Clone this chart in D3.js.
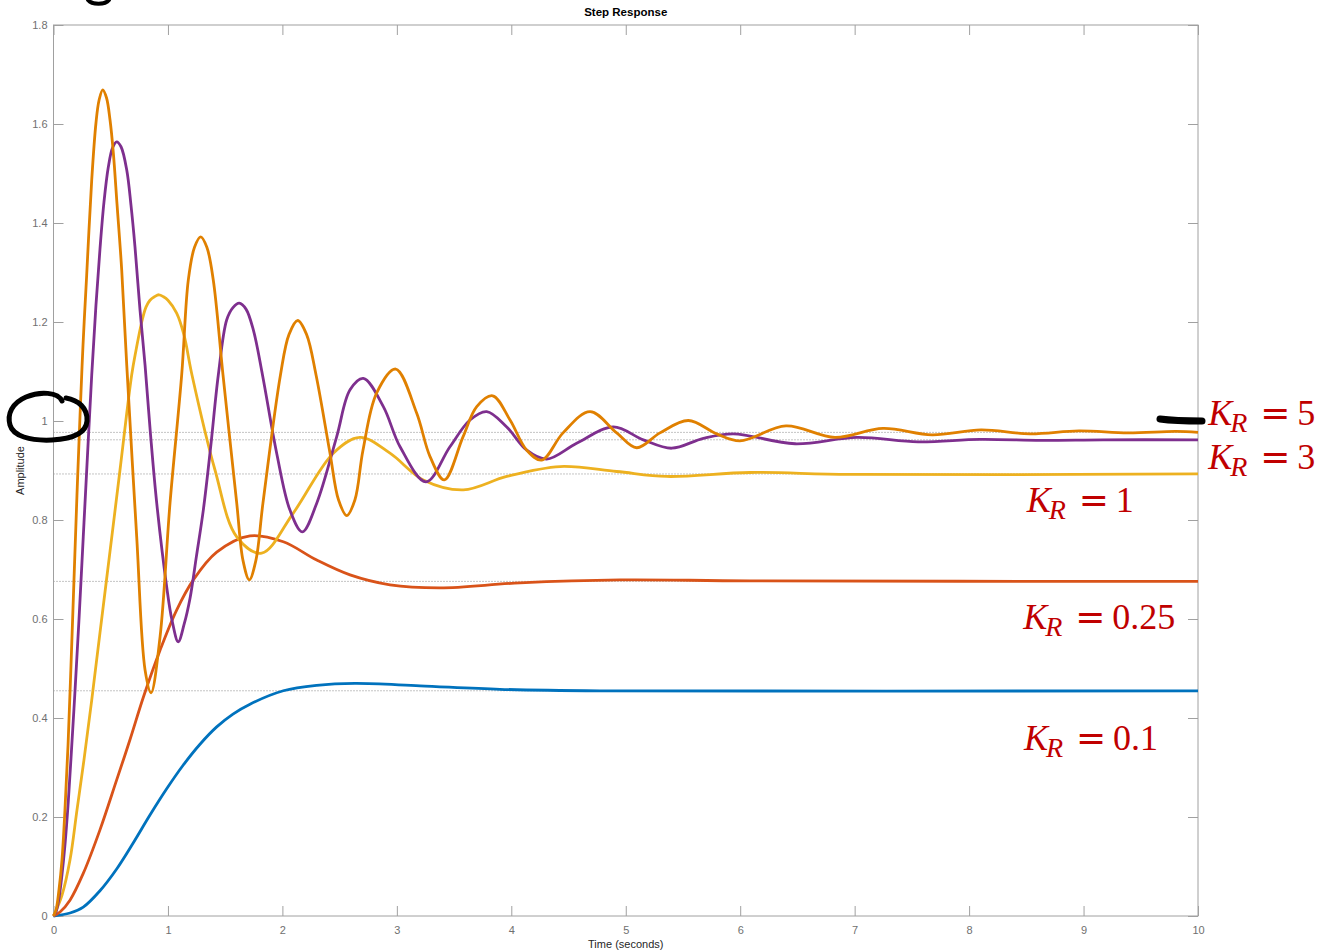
<!DOCTYPE html>
<html>
<head>
<meta charset="utf-8"/>
<title>Step Response</title>
<script src="https://d3js.org/d3.v7.min.js"></script>
<style>
  body { margin:0; background:#fff; }
  .tick text { font-family:"Liberation Sans", Arial, sans-serif; font-size:11px; fill:#707070; }
  .lbl { font-family:"Liberation Serif", "DejaVu Serif", serif; font-size:36px; fill:#c00000; }
</style>
</head>
<body>
<div id="chart"></div>
<script>

// time grid (seconds, amplitude)
var kr01 = [[0,0],[0.144,0.006],[0.26,0.018],[0.406,0.051],[0.552,0.095],[0.695,0.147],[0.843,0.204],[0.989,0.257],[1.134,0.305],[1.28,0.347],[1.426,0.382],[1.568,0.408],[1.717,0.428],[2.008,0.455],[2.3,0.466],[2.634,0.47],[3.202,0.465],[3.901,0.458],[4.775,0.455],[10,0.455]];

var kr025 = [[0,0],[0.057,0.008],[0.144,0.032],[0.26,0.086],[0.406,0.174],[0.552,0.275],[0.668,0.356],[0.785,0.442],[0.931,0.537],[1.076,0.618],[1.222,0.679],[1.426,0.735],[1.717,0.768],[2.008,0.756],[2.3,0.719],[2.591,0.689],[2.94,0.669],[3.377,0.663],[4.076,0.673],[4.95,0.679],[6.085,0.677],[10,0.676]];

var kr1 = [[0,0],[0.074,0.042],[0.144,0.113],[0.205,0.214],[0.266,0.315],[0.334,0.436],[0.406,0.572],[0.494,0.737],[0.581,0.901],[0.683,1.093],[0.721,1.143],[0.771,1.2],[0.808,1.23],[0.843,1.244],[0.882,1.251],[0.922,1.255],[0.961,1.251],[1.0,1.244],[1.076,1.218],[1.14,1.174],[1.21,1.093],[1.411,0.901],[1.601,0.766],[1.819,0.733],[2.095,0.814],[2.445,0.935],[2.678,0.967],[2.94,0.935],[3.231,0.881],[3.581,0.861],[3.96,0.888],[4.426,0.908],[4.921,0.898],[5.358,0.888],[6.086,0.896],[6.96,0.892],[10,0.893]];

var kr3 = [[0,0],[0.022,0.008],[0.048,0.036],[0.074,0.083],[0.1,0.143],[0.127,0.224],[0.153,0.319],[0.188,0.455],[0.223,0.6],[0.26,0.766],[0.297,0.931],[0.334,1.093],[0.371,1.234],[0.406,1.347],[0.441,1.442],[0.479,1.513],[0.516,1.552],[0.552,1.564],[0.59,1.554],[0.64,1.507],[0.677,1.436],[0.712,1.352],[0.756,1.224],[0.8,1.113],[0.848,0.972],[0.902,0.834],[0.989,0.665],[1.035,0.598],[1.09,0.554],[1.142,0.59],[1.193,0.642],[1.249,0.727],[1.309,0.82],[1.372,0.945],[1.44,1.093],[1.513,1.204],[1.568,1.229],[1.623,1.238],[1.682,1.226],[1.746,1.184],[1.826,1.093],[1.95,0.935],[2.066,0.82],[2.174,0.776],[2.3,0.834],[2.474,0.968],[2.591,1.063],[2.707,1.086],[2.882,1.029],[3.028,0.948],[3.255,0.877],[3.464,0.948],[3.639,1.002],[3.785,1.019],[3.96,0.988],[4.135,0.941],[4.309,0.923],[4.571,0.955],[4.891,0.988],[5.153,0.962],[5.401,0.945],[5.678,0.965],[5.94,0.974],[6.479,0.954],[7.02,0.967],[7.554,0.958],[8.095,0.963],[8.628,0.961],[9.17,0.962],[10,0.962]];

var kr5 = [[0,0],[0.022,0.012],[0.048,0.053],[0.074,0.113],[0.1,0.214],[0.127,0.345],[0.153,0.507],[0.179,0.679],[0.205,0.85],[0.232,1.012],[0.258,1.154],[0.29,1.295],[0.334,1.487],[0.371,1.602],[0.398,1.648],[0.43,1.669],[0.463,1.653],[0.494,1.608],[0.523,1.541],[0.555,1.438],[0.596,1.305],[0.64,1.113],[0.727,0.766],[0.8,0.497],[0.852,0.451],[0.931,0.564],[1.018,0.834],[1.12,1.093],[1.178,1.285],[1.232,1.351],[1.286,1.372],[1.34,1.351],[1.396,1.285],[1.481,1.093],[1.601,0.834],[1.656,0.718],[1.711,0.679],[1.768,0.718],[1.83,0.834],[1.983,1.093],[2.058,1.175],[2.134,1.203],[2.211,1.175],[2.294,1.093],[2.416,0.935],[2.49,0.841],[2.562,0.809],[2.634,0.841],[2.704,0.941],[2.824,1.057],[2.99,1.105],[3.173,1.016],[3.29,0.928],[3.415,0.881],[3.578,0.968],[3.698,1.029],[3.837,1.051],[3.989,1.002],[4.135,0.941],[4.266,0.921],[4.452,0.976],[4.688,1.019],[4.921,0.976],[5.096,0.946],[5.299,0.976],[5.547,1.001],[5.795,0.974],[5.998,0.96],[6.4,0.99],[6.828,0.967],[7.248,0.985],[7.676,0.972],[8.104,0.982],[8.532,0.974],[8.96,0.98],[9.388,0.976],[9.808,0.979],[10,0.977]];

// steady state values (dotted lines)
var finals = [0.455, 0.676, 0.893, 0.962, 0.977];

var series = [kr01, kr025, kr1, kr3, kr5];
var colors = ["#0072bd", "#d95319", "#edb120", "#7e2f8e", "#e08000"];
var labelNames = ["0.1", "0.25", "1", "3", "5"];
// label anchor in data units [t, amplitude]
var labelPos = [[8.48,0.335],[8.474,0.579],[8.503,0.817],[10.09,0.904],[10.09,0.992]];

var xTicks = d3.range(0, 11, 1);
var yTicks = [0,0.2,0.4,0.6,0.8,1,1.2,1.4,1.6,1.8];

var W = 1324, H = 951;
var margin = {top: 25, right: 126, bottom: 35, left: 53.5};
var width = W - margin.left - margin.right,
    height = H - margin.top - margin.bottom;

var x = d3.scaleLinear().domain([0, 10]).range([0, width]);
var y = d3.scaleLinear().domain([0, 1.8]).range([height, 0]);

var svg = d3.select("#chart").append("svg").attr("width", W).attr("height", H);
var g = svg.append("g").attr("transform", "translate(" + margin.left + "," + margin.top + ")");

// steady state dotted guides
g.selectAll(".ss").data(finals).enter().append("line")
  .attr("x1", 0).attr("x2", width)
  .attr("y1", function(d){ return y(d); }).attr("y2", function(d){ return y(d); })
  .style("stroke", "#8a8a8a").style("stroke-width", 1).style("stroke-dasharray", "1,2");

// axes - ticks pointing inward, box all round
var axCol = "#a0a0a0";
function styleAxis(sel){
  sel.select(".domain").remove();
  sel.selectAll(".tick line").style("stroke", axCol);
}
g.append("g").attr("transform", "translate(0," + height + ")")
  .call(d3.axisBottom(x).tickValues(xTicks).tickSizeInner(-10).tickSizeOuter(0).tickPadding(10).tickFormat(d3.format("d")))
  .call(styleAxis);
g.append("g")
  .call(d3.axisTop(x).tickValues(xTicks).tickSizeInner(-10).tickSizeOuter(0).tickFormat(""))
  .call(styleAxis);
g.append("g")
  .call(d3.axisLeft(y).tickValues(yTicks).tickSizeInner(-10).tickSizeOuter(0).tickPadding(6).tickFormat(function(d){ return d3.format("")(+d.toFixed(1)); }))
  .call(styleAxis);
g.append("g").attr("transform", "translate(" + width + ",0)")
  .call(d3.axisRight(y).tickValues(yTicks).tickSizeInner(-10).tickSizeOuter(0).tickFormat(""))
  .call(styleAxis);

g.append("rect").attr("width", width).attr("height", height)
  .style("fill", "none").style("stroke", axCol).style("stroke-width", 1);

// response curves
var line = d3.line()
  .x(function(d){ return x(d[0]); })
  .y(function(d){ return y(d[1]); })
  .curve(d3.curveCatmullRom.alpha(0.5));

g.selectAll(".resp").data(series).enter().append("path")
  .attr("d", line)
  .style("fill", "none")
  .style("stroke", function(d,i){ return colors[i]; })
  .style("stroke-width", 2.8)
  .style("stroke-linejoin", "round");

// titles
svg.append("text").attr("x", margin.left + width/2).attr("y", 16)
  .attr("text-anchor", "middle")
  .style("font-family", "Liberation Sans, Arial, sans-serif").style("font-size", "11.5px").style("font-weight", "bold")
  .style("fill", "#000").text("Step Response");
svg.append("text").attr("x", margin.left + width/2).attr("y", 948)
  .attr("text-anchor", "middle")
  .style("font-family", "Liberation Sans, Arial, sans-serif").style("font-size", "11px")
  .style("fill", "#262626").text("Time (seconds)");
svg.append("text").attr("transform", "translate(24," + (margin.top + height/2) + ") rotate(-90)")
  .attr("text-anchor", "middle")
  .style("font-family", "Liberation Sans, Arial, sans-serif").style("font-size", "11px")
  .style("fill", "#262626").text("Amplitude");

// K_R labels
labelNames.forEach(function(name, i){
  var px = x(labelPos[i][0]), py = y(labelPos[i][1]);
  var t = g.append("text").attr("class", "lbl").attr("y", py);
  t.append("tspan").attr("x", px).style("font-style", "italic").text("K");
  t.append("tspan").attr("x", px + 22).attr("dy", 7).style("font-style", "italic").style("font-size", "28px").text("R");
  t.append("tspan").attr("x", px + 52).attr("dy", -7).style("font-family", "DejaVu Sans, sans-serif").style("font-size", "36px").text("=");
  t.append("tspan").attr("x", px + 89).text(name);
});

// hand drawn marks on top of the figure
var ink = svg.append("g").style("fill", "none").style("stroke", "#000").style("stroke-linecap", "round").style("stroke-linejoin", "round");
ink.append("path").attr("stroke-width", 5)
  .attr("d", "M62,401 C58,392 40,391 26,397 C12,403 7,414 10,425 C13,436 30,441 52,440 C70,439 86,434 87,421 C88,408 78,400 66,398");
ink.append("path").attr("stroke-width", 7)
  .attr("d", "M1160,419 C1175,421 1190,421 1202,421");
ink.append("path").attr("stroke-width", 4)
  .attr("d", "M88,0 C92,5 105,5 109,0");

</script>
</body>
</html>
